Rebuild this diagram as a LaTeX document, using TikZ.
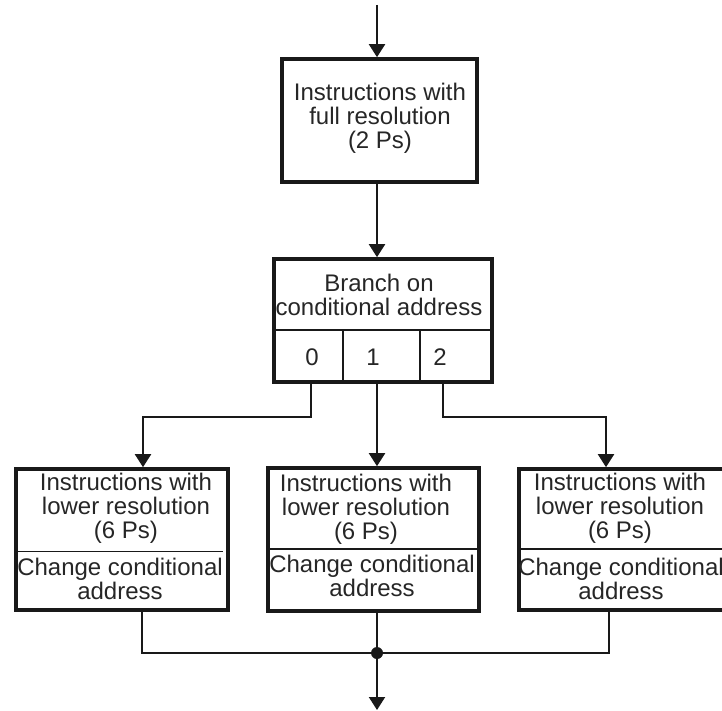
\documentclass[tikz,border=0pt]{standalone}
\usepackage{fontspec}
\setmainfont{Liberation Sans}
\usetikzlibrary{arrows.meta}
\begin{document}
\begin{tikzpicture}[x=1pt,y=-1pt,
  box/.style={draw=black!90, line width=3.6pt, inner sep=0pt},
  txt/.style={inner sep=0pt, align=center, font=\fontsize{24}{24.2}\selectfont, text=black!85},
  conn/.style={draw=black!90, line width=2pt},
  arr/.style={conn, -{Triangle[width=16pt,length=13pt]}},
  div/.style={draw=black!90, line width=2pt},
  thin/.style={draw=black!90, line width=1pt}]
\useasboundingbox (0,0) rectangle (722,711);
% boxes
\node[box, minimum width=195pt, minimum height=123pt] (top) at (379.5,120.5) {};
\node[box, minimum width=218pt, minimum height=123pt] (br) at (383,320.5) {};
\node[box, minimum width=212pt, minimum height=141pt] (L) at (122,539.5) {};
\node[box, minimum width=211pt, minimum height=143pt] (C) at (373.5,539.5) {};
\node[box, minimum width=212pt, minimum height=141pt] (R) at (625,539.5) {};
% texts
\node[txt] (ttop) at (380,118) {Instructions with\\full resolution\\(2 Ps)};
\node[txt] (tbr) at (379,295) {Branch on\\conditional address};
\node[txt] (t0) at (312,357) {0};
\node[txt] (t1) at (373,357) {1};
\node[txt] (t2) at (440,357) {2};
\node[txt] (tLa) at (126,508) {Instructions with\\lower resolution\\(6 Ps)};
\node[txt] (tLb) at (120,579) {Change conditional\\address};
\node[txt] (tCa) at (366,509) {Instructions with\\lower resolution\\(6 Ps)};
\node[txt] (tCb) at (372,576) {Change conditional\\address};
\node[txt] (tRa) at (620,508) {Instructions with\\lower resolution\\(6 Ps)};
\node[txt] (tRb) at (621,579) {Change conditional\\address};
% coordinates
\coordinate (d1) at (0,330);
\coordinate (d2) at (0,549);
\coordinate (v1) at (343,330);
\coordinate (v2) at (420,330);
\coordinate (in) at (377,5);
\coordinate (p0) at (311,417);
\coordinate (p2) at (443,417);
\coordinate (a0) at (143,0);
\coordinate (a1) at (377,0);
\coordinate (a2) at (606,0);
\coordinate (b0) at (142,0);
\coordinate (b2) at (609,0);
\coordinate (j) at (377,653);
\coordinate (out) at (377,710);
% internal dividers
\draw[div] (br.west |- d1) -- (br.east |- d1);
\draw[div] (v1) -- (v1 |- br.south);
\draw[div] (v2) -- (v2 |- br.south);
\draw[thin] (17,551) -- (223,551);
\draw[div] (C.west |- d2) -- (C.east |- d2);
\draw[div] (R.west |- d2) -- (R.east |- d2);
% connectors
\draw[arr] (in) -- (in |- top.north);
\draw[arr] (in |- top.south) -- (in |- br.north);
\draw[arr] (p0 |- br.south) -- (p0) -| (a0 |- L.north);
\draw[arr] (a1 |- br.south) -- (a1 |- C.north);
\draw[arr] (p2 |- br.south) -- (p2) -| (a2 |- R.north);
\draw[conn] (b0 |- L.south) |- (j);
\draw[conn] (b2 |- R.south) |- (j);
\draw[conn] (j |- C.south) -- (j);
\draw[arr] (j) -- (out);
\fill[black!90] (j) circle (6pt);
\end{tikzpicture}
\end{document}
